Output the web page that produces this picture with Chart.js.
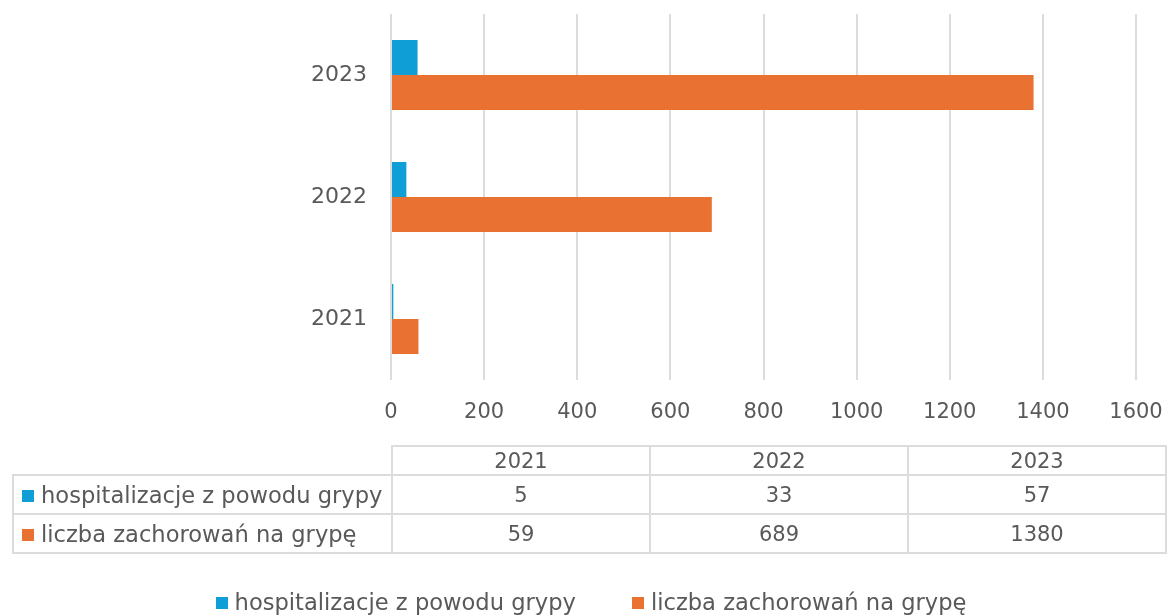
<!DOCTYPE html>
<html lang="pl">
  <head>
    <meta charset="UTF-8" />
    <title>Grypa 2021-2023</title>
    <script src="https://cdn.jsdelivr.net/npm/chart.js@4.4.1/dist/chart.umd.min.js"></script>
    <style>
      html, body { margin: 0; padding: 0; background: #fff; }
      body { width: 1167px; height: 615px; position: relative; overflow: hidden;
             font-family: "DejaVu Sans", sans-serif; color: #595959; }
      #wrap { position: absolute; left: 0; top: 0; width: 1167px; height: 615px; }
      table.data { position: absolute; left: 12px; top: 445px; border-collapse: collapse;
                   table-layout: fixed; width: 1155px; font-size: 21px; }
      table.data td { border: 2px solid #dcdcdc; text-align: center; padding: 0; height: 37px; }
      table.data tr.head td { height: 27px; }
      table.data td.lbl { text-align: left; padding-left: 8px; white-space: nowrap; font-size: 22.6px; }
      table.data td.blank { border: none; border-bottom: 2px solid #dcdcdc; }
      .sw { display: inline-block; width: 12px; height: 12px; margin-right: 7px; vertical-align: 1px; }
      #legend { position: absolute; left: 0; width: 1182px; top: 589px; text-align: center; font-size: 22.6px; white-space: nowrap; }
      #legend span.item { margin: 0 28px; }
    </style>
  </head>
  <body>
    <div id="wrap"><canvas id="fluChart" width="1167" height="615"></canvas></div>
    <table class="data" id="dataTable">
      <colgroup><col style="width:379px" /><col style="width:258px" /><col style="width:258px" /><col style="width:258px" /></colgroup>
    </table>
    <div id="legend"></div>

    <script>
      // data
      const years = ["2021", "2022", "2023"];
      const seriesNames = ["hospitalizacje z powodu grypy", "liczba zachorowań na grypę"];
      const hospitalizations = [5, 33, 57];
      const cases = [59, 689, 1380];
      const colors = ["#0F9ED5", "#E97132"];
      const xTicks = [0, 200, 400, 600, 800, 1000, 1200, 1400, 1600];

      const allValues = [hospitalizations, cases];
      const textColor = "#595959";
      const fontFamily = '"DejaVu Sans", sans-serif';

      const ctx = document.getElementById("fluChart").getContext("2d");
      const fluChart = new Chart(ctx, {
        type: "bar",
        data: {
          labels: years,
          datasets: seriesNames.map((name, i) => ({
            label: name,
            data: allValues[i],
            backgroundColor: colors[i],
            categoryPercentage: 0.574,
            barPercentage: 1.0,
          })),
        },
        options: {
          indexAxis: "y",
          responsive: false,
          animation: false,
          layout: { padding: { top: 14, right: 31, left: 0, bottom: 0 } },
          plugins: { legend: { display: false }, tooltip: { enabled: false } },
          scales: {
            x: {
              min: 0,
              max: 1600,
              afterBuildTicks: (scale) => { scale.ticks = xTicks.map((v) => ({ value: v })); },
              grid: { color: "#dcdcdc", lineWidth: 2, drawTicks: false },
              border: { display: false },
              ticks: { color: textColor, padding: 20, font: { family: fontFamily, size: 21 }, callback: (v) => String(v) },
              afterFit: (scale) => { scale.height = 235; scale.paddingLeft = 0; scale.paddingRight = 0; },
            },
            y: {
              reverse: true,
              grid: { display: false, drawTicks: false },
              border: { display: false },
              ticks: { color: textColor, padding: 24, font: { family: fontFamily, size: 22 } },
              afterFit: (scale) => { scale.width = 391; scale.paddingTop = 0; scale.paddingBottom = 0; },
            },
          },
        },
      });

      // data table under the chart
      const table = document.getElementById("dataTable");
      let html = '<tr class="head"><td class="blank"></td>' + years.map((y) => "<td>" + y + "</td>").join("") + "</tr>";
      seriesNames.forEach((name, i) => {
        html += '<tr><td class="lbl"><span class="sw" style="background:' + colors[i] + '"></span>' + name + "</td>";
        html += allValues[i].map((v) => "<td>" + v + "</td>").join("") + "</tr>";
      });
      table.insertAdjacentHTML("beforeend", html);

      // legend
      document.getElementById("legend").innerHTML = seriesNames
        .map((name, i) => '<span class="item"><span class="sw" style="background:' + colors[i] + '"></span>' + name + "</span>")
        .join("");
    </script>
  </body>
</html>
